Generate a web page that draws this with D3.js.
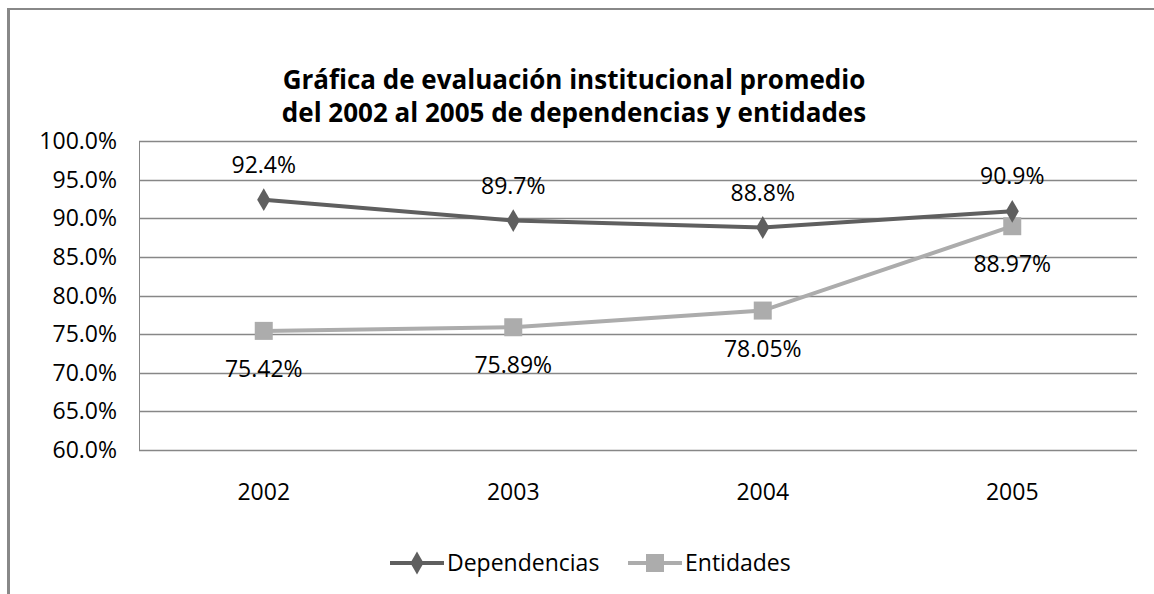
<!DOCTYPE html>
<html>
<head>
<meta charset="utf-8">
<script src="https://cdn.jsdelivr.net/npm/d3@7"></script>
<style>
  body { margin: 0; background: #fff; }
  text { font-family: "Open Sans", sans-serif; }
</style>
</head>
<body>
<div id="chart"></div>
<script>
// Evaluación institucional promedio 2002-2005
const width = 1154;
const height = 594;

const years = ["2002", "2003", "2004", "2005"];
const dependencias = [92.4, 89.7, 88.8, 90.9];
const entidades = [75.42, 75.89, 78.05, 88.97];
const depLabels = ["92.4%", "89.7%", "88.8%", "90.9%"];
const entLabels = ["75.42%", "75.89%", "78.05%", "88.97%"];
const yTicks = [60, 65, 70, 75, 80, 85, 90, 95, 100];
const titleLines = [
    "Gráfica de evaluación institucional promedio",
    "del 2002 al 2005 de dependencias y entidades"
];

const margin = { top: 141, right: 17, bottom: 144, left: 139 };
const fontSize = 23;

const svg = d3.select("#chart")
    .append("svg")
    .attr("width", width)
    .attr("height", height);

// outer chart border (only top and left edges visible)
svg.append("line")
    .attr("x1", 8.5).attr("x2", width)
    .attr("y1", 9).attr("y2", 9)
    .attr("stroke", "#888").attr("stroke-width", 2);
svg.append("line")
    .attr("x1", 8.5).attr("x2", 8.5)
    .attr("y1", 8).attr("y2", height)
    .attr("stroke", "#888").attr("stroke-width", 3);

// title
svg.append("g")
    .selectAll("text")
    .data(titleLines)
    .join("text")
    .attr("x", 574)
    .attr("y", (d, i) => 89 + i * 33)
    .attr("text-anchor", "middle")
    .attr("font-size", 26)
    .attr("font-weight", "bold")
    .attr("fill", "#000")
    .text(d => d);

const x = d3.scalePoint()
    .domain(years)
    .range([margin.left, width - margin.right])
    .padding(0.5);

const y = d3.scaleLinear()
    .domain([60, 100])
    .range([height - margin.bottom, margin.top]);

// gridlines
svg.append("g")
    .selectAll("line")
    .data(yTicks)
    .join("line")
    .attr("x1", margin.left)
    .attr("x2", width - margin.right)
    .attr("y1", d => Math.round(y(d)) + 0.5)
    .attr("y2", d => Math.round(y(d)) + 0.5)
    .attr("stroke", "#878787")
    .attr("stroke-width", 1.3);

// left axis line
svg.append("line")
    .attr("x1", margin.left + 0.5).attr("x2", margin.left + 0.5)
    .attr("y1", y(100)).attr("y2", y(60))
    .attr("stroke", "#878787");

// y tick labels
svg.append("g")
    .selectAll("text")
    .data(yTicks)
    .join("text")
    .attr("x", 117)
    .attr("y", d => y(d))
    .attr("dy", "0.35em")
    .attr("text-anchor", "end")
    .attr("font-size", fontSize)
    .attr("fill", "#000")
    .text(d => d.toFixed(1) + "%");

// x labels
svg.append("g")
    .selectAll("text")
    .data(years)
    .join("text")
    .attr("x", d => x(d))
    .attr("y", y(60) + 42)
    .attr("dy", "0.35em")
    .attr("text-anchor", "middle")
    .attr("font-size", fontSize)
    .attr("fill", "#000")
    .text(d => d);

const line = d3.line()
    .x((d, i) => x(years[i]))
    .y(d => y(d));

const depColor = "#5f5f5f";
const entColor = "#acacac";

// Entidades series
svg.append("path")
    .datum(entidades)
    .attr("d", line)
    .attr("fill", "none")
    .attr("stroke", entColor)
    .attr("stroke-width", 4);

svg.append("g")
    .selectAll("rect")
    .data(entidades)
    .join("rect")
    .attr("x", (d, i) => x(years[i]) - 9)
    .attr("y", d => y(d) - 9)
    .attr("width", 18)
    .attr("height", 18)
    .attr("fill", entColor);

// Dependencias series
svg.append("path")
    .datum(dependencias)
    .attr("d", line)
    .attr("fill", "none")
    .attr("stroke", depColor)
    .attr("stroke-width", 4);

const diamond = d3.symbol().type(d3.symbolDiamond).size(150);
svg.append("g")
    .selectAll("path")
    .data(dependencias)
    .join("path")
    .attr("transform", (d, i) => `translate(${x(years[i])},${y(d)})`)
    .attr("d", diamond)
    .attr("fill", depColor);

// data labels
svg.append("g")
    .selectAll("text")
    .data(dependencias)
    .join("text")
    .attr("x", (d, i) => x(years[i]))
    .attr("y", d => y(d) - 35)
    .attr("dy", "0.35em")
    .attr("text-anchor", "middle")
    .attr("font-size", fontSize)
    .attr("fill", "#000")
    .text((d, i) => depLabels[i]);

svg.append("g")
    .selectAll("text")
    .data(entidades)
    .join("text")
    .attr("x", (d, i) => x(years[i]))
    .attr("y", d => y(d) + 38)
    .attr("dy", "0.35em")
    .attr("text-anchor", "middle")
    .attr("font-size", fontSize)
    .attr("fill", "#000")
    .text((d, i) => entLabels[i]);

// legend
const legendItems = [
    { name: "Dependencias", color: depColor, marker: "diamond", x: 390 },
    { name: "Entidades", color: entColor, marker: "square", x: 628 }
];
const legendY = 563;
const lg = svg.append("g");
legendItems.forEach(item => {
    lg.append("line")
        .attr("x1", item.x).attr("x2", item.x + 54)
        .attr("y1", legendY).attr("y2", legendY)
        .attr("stroke", item.color)
        .attr("stroke-width", 4);
    if (item.marker === "diamond") {
        lg.append("path")
            .attr("transform", `translate(${item.x + 27},${legendY})`)
            .attr("d", diamond)
            .attr("fill", item.color);
    } else {
        lg.append("rect")
            .attr("x", item.x + 18).attr("y", legendY - 9)
            .attr("width", 18).attr("height", 18)
            .attr("fill", item.color);
    }
    lg.append("text")
        .attr("x", item.x + 57)
        .attr("y", legendY)
        .attr("dy", "0.35em")
        .attr("font-size", fontSize)
        .attr("fill", "#000")
        .text(item.name);
});
</script>
</body>
</html>
